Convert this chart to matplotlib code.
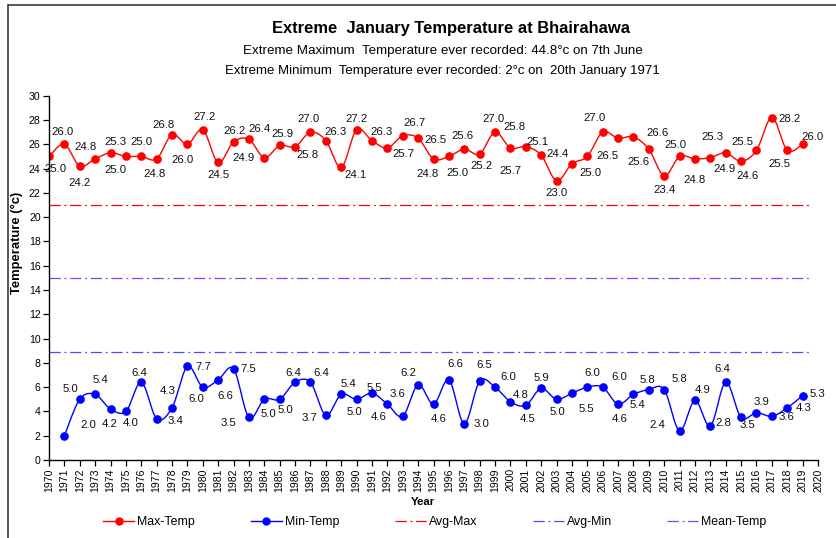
"""
Temperaturas extremas de enero en Bhairahawa (1970-2019).
"""

import matplotlib

matplotlib.use("Agg")
import matplotlib.pyplot as plt
import numpy as np
from matplotlib.lines import Line2D
from matplotlib.patches import Rectangle

plt.rcParams["font.family"] = ["Liberation Sans", "DejaVu Sans"]

# --- datos ---------------------------------------------------------------
years_max = list(range(1970, 2020))
max_temp = [
    25.0, 26.0, 24.2, 24.8, 25.3, 25.0, 25.0, 24.8, 26.8, 26.0,
    27.2, 24.5, 26.2, 26.4, 24.9, 25.9, 25.8, 27.0, 26.3, 24.1,
    27.2, 26.3, 25.7, 26.7, 26.5, 24.8, 25.0, 25.6, 25.2, 27.0,
    25.7, 25.8, 25.1, 23.0, 24.4, 25.0, 27.0, 26.5, 26.6, 25.6,
    23.4, 25.0, 24.8, 24.9, 25.3, 24.6, 25.5, 28.2, 25.5, 26.0,
]
years_min = list(range(1971, 2020))
min_temp = [
    2.0, 5.0, 5.4, 4.2, 4.0, 6.4, 3.4, 4.3, 7.7, 6.0,
    6.6, 7.5, 3.5, 5.0, 5.0, 6.4, 6.4, 3.7, 5.4, 5.0,
    5.5, 4.6, 3.6, 6.2, 4.6, 6.6, 3.0, 6.5, 6.0, 4.8,
    4.5, 5.9, 5.0, 5.5, 6.0, 6.0, 4.6, 5.4, 5.8, 5.8,
    2.4, 4.9, 2.8, 6.4, 3.5, 3.9, 3.6, 4.3, 5.3,
]
avg_max = 21.0
avg_min = 8.9
mean_temp = 14.95

title = "Extreme  January Temperature at Bhairahawa"
subtitle_max = "Extreme Maximum  Temperature ever recorded: 44.8°c on 7th June"
subtitle_min = "Extreme Minimum  Temperature ever recorded: 2°c on  20th January 1971"

# desplazamiento de etiquetas (px, y hacia arriba)
off_max = [
    (6, -13), (-2, 12), (0, -17), (-10, 12), (5, 11), (-10, -14), (0, 14), (-2, -15),
    (-9, 10), (-5, -16), (2, 13), (0, -13), (1, 11), (11, 10), (-21, 0), (3, 11),
    (12, -8), (-2, 13), (10, 9), (14, -8), (0, 11), (10, 9), (16, -6), (12, 13),
    (17, -2), (-6, -15), (9, -17), (-2, 13), (2, -12), (-2, 13), (0, -23), (-11, 20),
    (-4, 13), (0, -12), (-14, 10), (3, -17), (-8, 14), (-11, -18), (24, 4), (-10, -13),
    (0, -14), (-4, 11), (0, -21), (14, -11), (-13, 16), (6, -15), (-14, 8), (18, -1),
    (-8, -14), (10, 7),
]
off_min = [
    (24, 11), (-9, 10), (5, 14), (-1, -15), (5, -12), (-2, 9), (19, -2), (-4, 17),
    (16, -1), (-6, -12), (7, -16), (15, 0), (-21, -6), (4, -15), (6, -11), (-2, 9),
    (11, 9), (-16, -3), (7, 10), (-2, -13), (2, 5), (-9, -13), (-5, 22), (-10, 12),
    (5, -15), (6, 16), (17, 0), (5, 16), (13, 10), (10, 7), (2, -14), (0, 10),
    (1, -13), (15, -16), (5, 14), (17, 10), (2, -15), (4, -11), (-1, 10), (15, 11),
    (-22, 6), (8, 10), (13, 3), (-3, 13), (6, -8), (5, 11), (15, -1), (16, 0),
    (15, 2),
]


def suavizar(x, y, n=12):
    """Curva tipo Excel (Bezier con tangentes de Catmull-Rom)."""
    p = np.column_stack([x, y]).astype(float)
    ext = np.vstack([p[0], p, p[-1]])
    t = np.linspace(0, 1, n)[:, None]
    out = [p[:1]]
    for i in range(len(p) - 1):
        p0, p3 = ext[i + 1], ext[i + 2]
        c1 = p0 + (ext[i + 2] - ext[i]) / 6
        c2 = p3 - (ext[i + 3] - ext[i + 1]) / 6
        seg = ((1 - t) ** 3) * p0 + 3 * ((1 - t) ** 2) * t * c1 + 3 * (1 - t) * t**2 * c2 + t**3 * p3
        out.append(seg[1:])
    c = np.vstack(out)
    return c[:, 0], c[:, 1]


W, H = 836, 538
fig = plt.figure(figsize=(W / 100, H / 100), dpi=100)
fig.patches.append(
    Rectangle((8 / W, -0.1), 1.2, 1 - 5 / H + 0.1, transform=fig.transFigure,
              fill=False, edgecolor="#3a3a3a", linewidth=1.2)
)

ax = fig.add_axes([49 / W, 1 - 460 / H, (818 - 49) / W, (460 - 95.7) / H])
ax.set_xlim(1970, 2020)
ax.set_ylim(0, 30)

red, blue = "#ff0000", "#0000ff"
avgmin_col, mean_col = "#4b4bff", "#8a3cff"
dashdot = (0, (9, 3, 1.5, 3))

ax.hlines(avg_max, 1970, 2019.6, colors=red, linewidth=0.9, linestyles=dashdot)
ax.hlines(mean_temp, 1970, 2019.6, colors=mean_col, linewidth=0.9, linestyles=dashdot)
ax.hlines(avg_min, 1970, 2019.6, colors=avgmin_col, linewidth=0.9, linestyles=dashdot)

sx, sy = suavizar(years_max, max_temp)
ax.plot(sx, sy, color=red, linewidth=1.0)
ax.plot(years_max, max_temp, "o", color=red, markersize=5.2)
sx, sy = suavizar(years_min, min_temp)
ax.plot(sx, sy, color=blue, linewidth=1.0)
ax.plot(years_min, min_temp, "o", color=blue, markersize=5.2)

for xs, vals, offs in ((years_max, max_temp, off_max), (years_min, min_temp, off_min)):
    for x, v, (dx, dy) in zip(xs, vals, offs):
        ax.annotate(f"{v:.1f}", (x, v), xytext=(dx, dy), textcoords="offset pixels",
                    ha="center", va="center", fontsize=8.2, color="#111111")

for s in ("top", "right"):
    ax.spines[s].set_visible(False)
for s in ("left", "bottom"):
    ax.spines[s].set_linewidth(1.0)
ax.set_yticks(range(0, 31, 2))
ax.set_xticks(range(1970, 2021))
ax.set_xticklabels([str(y) for y in range(1970, 2021)], rotation=90)
ax.tick_params(axis="both", direction="out", length=4, width=0.9, labelsize=7.6,
               colors="#000000", pad=2)

fig.text(451 / W, 1 - 29 / H, title, ha="center", va="center", fontsize=11.9,
         fontweight="bold")
fig.text(443 / W, 1 - 51 / H, subtitle_max, ha="center", va="center", fontsize=9.6)
fig.text(442 / W, 1 - 71 / H, subtitle_min, ha="center", va="center", fontsize=9.5)
fig.text(17 / W, 1 - 243 / H, "Temperature (°c)", rotation=90, ha="center",
         va="center", fontsize=9.4, fontweight="bold")
fig.text(423 / W, 1 - 502 / H, "Year", ha="center", va="center", fontsize=8.2,
         fontweight="bold")

handles = [
    Line2D([], [], color=red, marker="o", markersize=5, linewidth=1.0),
    Line2D([], [], color=blue, marker="o", markersize=5, linewidth=1.0),
    Line2D([], [], color=red, linewidth=0.9, linestyle=dashdot),
    Line2D([], [], color=avgmin_col, linewidth=0.9, linestyle=dashdot),
    Line2D([], [], color=mean_col, linewidth=0.9, linestyle=dashdot),
]
labels = ["Max-Temp", "Min-Temp", "Avg-Max", "Avg-Min", "Mean-Temp"]
fig.legend(handles, labels, loc="center", bbox_to_anchor=(435 / W, 1 - 522 / H),
           ncol=5, frameon=False, fontsize=8.9, handlelength=2.5,
           handletextpad=0.25, columnspacing=4.5)

fig.savefig("out.png", dpi=100)
